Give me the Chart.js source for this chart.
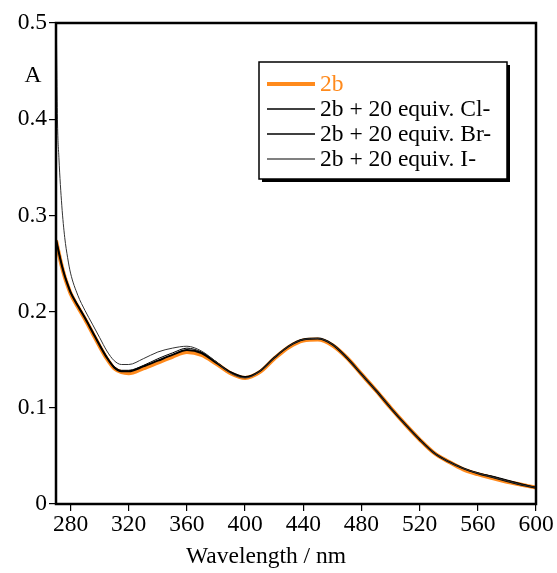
<!DOCTYPE html>
<html>
<head>
<meta charset="utf-8">
<script src="https://cdn.jsdelivr.net/npm/chart.js@4"></script>
<style>
  html, body { margin: 0; padding: 0; background: #fff; }
  #wrap { width: 557px; height: 573px; }
</style>
</head>
<body>
<div id="wrap"><canvas id="myChart" width="557" height="573"></canvas></div>
<script>
// wavelength (nm), finer steps at the steep start
const wavelengths = [270, 271, 272, 274, 276, 278, 280, 285, 290, 295, 300, 305, 310, 315, 320,
    330, 340, 350, 360, 370, 380, 390, 400, 410, 420, 430, 440, 450, 460, 470, 480,
    490, 500, 510, 520, 530, 540, 550, 560, 570, 580, 590, 600];

const abs2b = [0.274, 0.267, 0.260, 0.247, 0.236, 0.227, 0.219, 0.205, 0.192, 0.178, 0.164, 0.151, 0.141, 0.137, 0.136,
    0.141, 0.147, 0.153, 0.158, 0.155, 0.146, 0.136, 0.131, 0.137, 0.151, 0.163, 0.170, 0.171, 0.165, 0.152, 0.135,
    0.118, 0.100, 0.083, 0.067, 0.053, 0.044, 0.036, 0.031, 0.027, 0.023, 0.020, 0.017];

const absCl = [0.276, 0.269, 0.262, 0.249, 0.238, 0.229, 0.221, 0.207, 0.194, 0.180, 0.166, 0.153, 0.143, 0.139, 0.139,
    0.144, 0.151, 0.157, 0.162, 0.158, 0.148, 0.137, 0.132, 0.138, 0.152, 0.164, 0.171, 0.172, 0.166, 0.152, 0.135,
    0.118, 0.100, 0.083, 0.067, 0.053, 0.044, 0.037, 0.032, 0.029, 0.025, 0.021, 0.017];

const absBr = [0.275, 0.268, 0.261, 0.248, 0.237, 0.228, 0.220, 0.206, 0.193, 0.179, 0.165, 0.152, 0.142, 0.138, 0.138,
    0.143, 0.149, 0.155, 0.160, 0.157, 0.147, 0.137, 0.132, 0.138, 0.152, 0.164, 0.171, 0.172, 0.166, 0.152, 0.135,
    0.118, 0.100, 0.083, 0.067, 0.053, 0.044, 0.037, 0.032, 0.028, 0.024, 0.020, 0.017];

const absI = [0.53, 0.40, 0.36, 0.31, 0.277, 0.256, 0.240, 0.217, 0.201, 0.187, 0.173, 0.159, 0.149, 0.145, 0.145,
    0.151, 0.158, 0.162, 0.164, 0.159, 0.148, 0.136, 0.131, 0.138, 0.152, 0.164, 0.171, 0.172, 0.166, 0.152, 0.135,
    0.118, 0.100, 0.083, 0.067, 0.053, 0.044, 0.037, 0.032, 0.028, 0.024, 0.020, 0.017];

const seriesLabels = ['2b', '2b + 20 equiv. Cl-', '2b + 20 equiv. Br-', '2b + 20 equiv. I-'];
const xTicks = [280, 320, 360, 400, 440, 480, 520, 560, 600];
const yTicks = [0, 0.1, 0.2, 0.3, 0.4, 0.5];

const serif = '"Liberation Serif", "Times New Roman", serif';
const fontSize = 23.5;

function pts(ys) {
    return wavelengths.map((w, i) => ({x: w, y: ys[i]}));
}

// box round the plot, the axis labels and the framed legend
const decorations = {
    id: 'decorations',
    afterDraw(chart) {
        const ctx = chart.ctx;
        const a = chart.chartArea;
        ctx.save();
        ctx.strokeStyle = '#000';
        ctx.lineWidth = 2.5;
        ctx.strokeRect(a.left, a.top, a.right - a.left, a.bottom - a.top);

        ctx.font = fontSize + 'px ' + serif;
        ctx.fillStyle = '#000';
        ctx.textAlign = 'center';
        ctx.textBaseline = 'middle';
        ctx.fillText('A', a.left - 23, a.top + 53);
        ctx.fillText('Wavelength / nm', 266, a.bottom + 53);

        // legend
        const bx = 259, by = 62, bw = 248, bh = 117;
        ctx.fillStyle = '#000';
        ctx.fillRect(bx + 3, by + 3, bw, bh);
        ctx.fillStyle = '#fff';
        ctx.fillRect(bx, by, bw, bh);
        ctx.lineWidth = 1.5;
        ctx.strokeStyle = '#000';
        ctx.strokeRect(bx, by, bw, bh);
        const rows = [84, 109, 134, 159];
        chart.data.datasets.forEach((ds, i) => {
            const y = rows[i];
            ctx.beginPath();
            ctx.strokeStyle = ds.legendColor || ds.borderColor;
            ctx.lineWidth = ds.legendWidth || ds.borderWidth;
            ctx.moveTo(267, y);
            ctx.lineTo(315, y);
            ctx.stroke();
            ctx.fillStyle = i === 0 ? ds.borderColor : '#000';
            ctx.textAlign = 'left';
            ctx.fillText(ds.label, 320, y + 1);
        });
        ctx.restore();
    }
};

const ctx = document.getElementById('myChart').getContext('2d');
new Chart(ctx, {
    type: 'line',
    data: {
        datasets: [
            {label: seriesLabels[0], data: pts(abs2b), borderColor: '#ff8a1c', borderWidth: 4, order: 4},
            {label: seriesLabels[1], data: pts(absCl), borderColor: '#000', borderWidth: 1, legendWidth: 1.4, order: 3},
            {label: seriesLabels[2], data: pts(absBr), borderColor: '#000', borderWidth: 2, legendWidth: 1.6, order: 2},
            {label: seriesLabels[3], data: pts(absI), borderColor: '#333', legendColor: '#808080', legendWidth: 2, borderWidth: 1, order: 1}
        ]
    },
    options: {
        responsive: false,
        animation: false,
        events: [],
        layout: {padding: {top: 23, right: 21, left: 0, bottom: 0}},
        elements: {
            point: {radius: 0},
            line: {cubicInterpolationMode: 'monotone', fill: false}
        },
        plugins: {
            legend: {display: false},
            tooltip: {enabled: false}
        },
        scales: {
            x: {
                type: 'linear',
                min: 270,
                max: 600,
                afterBuildTicks: s => { s.ticks = xTicks.map(v => ({value: v})); },
                afterFit: s => { s.height = 69; },
                grid: {display: true, drawOnChartArea: false, drawTicks: true, tickLength: 7, color: '#000', lineWidth: 1.2},
                border: {display: false},
                ticks: {color: '#000', font: {family: serif, size: fontSize}, padding: 0, maxRotation: 0}
            },
            y: {
                min: 0,
                max: 0.5,
                afterBuildTicks: s => { s.ticks = yTicks.map(v => ({value: v})); },
                afterFit: s => { s.width = 56; },
                grid: {display: true, drawOnChartArea: false, drawTicks: true, tickLength: 7, color: '#000', lineWidth: 1.2},
                border: {display: false},
                ticks: {color: '#000', font: {family: serif, size: fontSize}, padding: 2, callback: v => String(v)}
            }
        }
    },
    plugins: [decorations]
});
</script>
</body>
</html>
